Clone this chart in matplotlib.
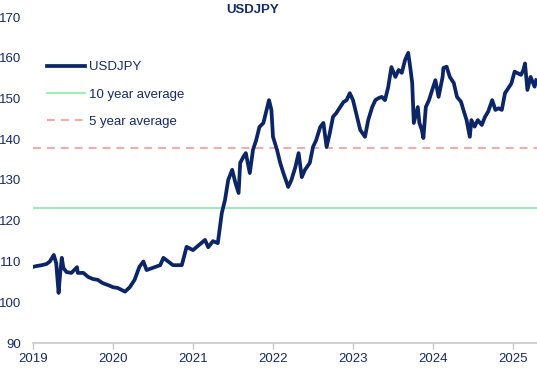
import matplotlib
matplotlib.use("Agg")
import matplotlib.pyplot as plt

plt.rcParams['font.family'] = ["Liberation Sans", "DejaVu Sans"]

# decimal-year dates and USDJPY values
dates = [2018.98, 2019.05, 2019.11, 2019.17, 2019.21, 2019.26, 2019.29, 2019.32, 2019.34, 2019.36,
         2019.38, 2019.42, 2019.48, 2019.55, 2019.56, 2019.63, 2019.69, 2019.75, 2019.81, 2019.87,
         2019.94, 2020.00, 2020.06, 2020.15, 2020.21, 2020.27, 2020.33, 2020.38, 2020.42, 2020.59,
         2020.63, 2020.75, 2020.86, 2020.92, 2021.00, 2021.15, 2021.19, 2021.25, 2021.31, 2021.36,
         2021.40, 2021.44, 2021.49, 2021.53, 2021.57, 2021.59, 2021.63, 2021.66, 2021.71, 2021.75,
         2021.79, 2021.83, 2021.88, 2021.92, 2021.95, 2021.98, 2022.00, 2022.05, 2022.09, 2022.13,
         2022.19, 2022.23, 2022.28, 2022.32, 2022.36, 2022.40, 2022.46, 2022.50, 2022.54, 2022.59,
         2022.63, 2022.67, 2022.71, 2022.75, 2022.79, 2022.84, 2022.88, 2022.92, 2022.96, 2023.00,
         2023.04, 2023.09, 2023.15, 2023.19, 2023.24, 2023.28, 2023.32, 2023.36, 2023.40, 2023.44,
         2023.48, 2023.53, 2023.57, 2023.61, 2023.65, 2023.69, 2023.72, 2023.74, 2023.76, 2023.81,
         2023.83, 2023.86, 2023.88, 2023.91, 2023.95, 2023.99, 2024.03, 2024.07, 2024.12, 2024.13,
         2024.17, 2024.21, 2024.26, 2024.30, 2024.35, 2024.38, 2024.42, 2024.46, 2024.48, 2024.52,
         2024.56, 2024.61, 2024.65, 2024.69, 2024.74, 2024.78, 2024.82, 2024.86, 2024.90, 2024.94,
         2024.98, 2025.02, 2025.06, 2025.10, 2025.13, 2025.15, 2025.18, 2025.22, 2025.27, 2025.29]
usdjpy = [108.6, 108.9, 109.1, 109.4, 110.0, 111.6, 109.6, 102.3, 107.2, 110.9,
          108.4, 107.4, 107.2, 108.6, 107.2, 107.2, 106.2, 105.7, 105.5, 104.7,
          104.2, 103.7, 103.5, 102.6, 103.7, 105.5, 108.7, 110.0, 107.9, 109.1,
          110.9, 109.1, 109.1, 113.6, 112.8, 115.3, 113.5, 115.0, 114.5, 121.9,
          125.1, 130.0, 132.5, 129.3, 126.8, 134.2, 135.7, 136.6, 131.7, 137.4,
          139.8, 143.0, 144.0, 147.2, 149.6, 147.2, 140.6, 137.4, 134.2, 131.7,
          128.3, 130.0, 133.2, 136.6, 130.7, 132.5, 134.2, 138.1, 139.8, 143.0,
          144.0, 138.1, 141.5, 145.5, 146.4, 147.9, 149.1, 149.6, 151.3, 149.6,
          146.4, 142.3, 140.6, 144.7, 147.9, 149.6, 150.1, 150.4, 149.6, 152.8,
          157.7, 155.3, 157.0, 156.3, 159.4, 161.2, 157.0, 153.8, 144.0, 147.9,
          144.0, 142.3, 140.3, 147.9, 149.6, 152.1, 154.5, 150.4, 155.3, 157.5,
          157.8, 155.3, 153.8, 150.4, 149.2, 147.2, 144.7, 140.6, 144.7, 143.1,
          144.7, 143.5, 145.5, 146.8, 149.6, 147.2, 147.6, 147.2, 151.3, 152.5,
          153.7, 156.6, 156.2, 155.8, 157.0, 158.6, 152.1, 155.3, 152.9, 154.5]

avg10 = 123.1
avg5 = 137.9
xticks = [2019, 2020, 2021, 2022, 2023, 2024, 2025]
yticks = [90, 100, 110, 120, 130, 140, 150, 160, 170]

NAVY = "#0b2566"
TXT = "#15296b"
FS = 9.5

fig = plt.figure(figsize=(5.37, 3.68), dpi=100)
ax = fig.add_axes([33/537, 1 - 343/368, 504/537, 326/368])

ax.axhline(avg10, color="#90eeb0", lw=1.3, label="10 year average", zorder=2)
ax.axhline(avg5, color="#ff9f9a", lw=1.3, ls=(0, (4.4, 3.3)), label="5 year average", zorder=2)
ax.plot(dates, usdjpy, color=NAVY, lw=2.7, label="USDJPY", zorder=3)

ax.set_xlim(2019, 2025.3)
ax.set_ylim(90, 170)
ax.set_xticks(xticks)
ax.set_xticklabels([str(x) for x in xticks])
ax.set_yticks(yticks)

for s in ["top", "right", "left"]:
    ax.spines[s].set_visible(False)
ax.spines["bottom"].set_color("#c8c8c8")
ax.spines["bottom"].set_linewidth(1.2)
ax.tick_params(axis="x", colors="#c8c8c8", length=4, width=1, labelcolor=TXT, labelsize=FS, pad=3)
ax.tick_params(axis="y", length=0, labelcolor=TXT, labelsize=FS, pad=8.5)

handles, labels = ax.get_legend_handles_labels()
order = [2, 0, 1]
leg = ax.legend([handles[i] for i in order], [labels[i] for i in order],
                loc="upper left", bbox_to_anchor=((47 - 33) / 504, (343 - 61) / 326),
                borderpad=0, borderaxespad=0, frameon=False,
                fontsize=FS, handlelength=2.9, handletextpad=0.25, labelspacing=1.14)
for t in leg.get_texts():
    t.set_color(TXT)

fig.text(253/537, 1 - 10/368, "USDJPY", ha="center", va="center", fontsize=FS,
         fontweight="bold", color=TXT)

fig.savefig("out.png", dpi=100)
